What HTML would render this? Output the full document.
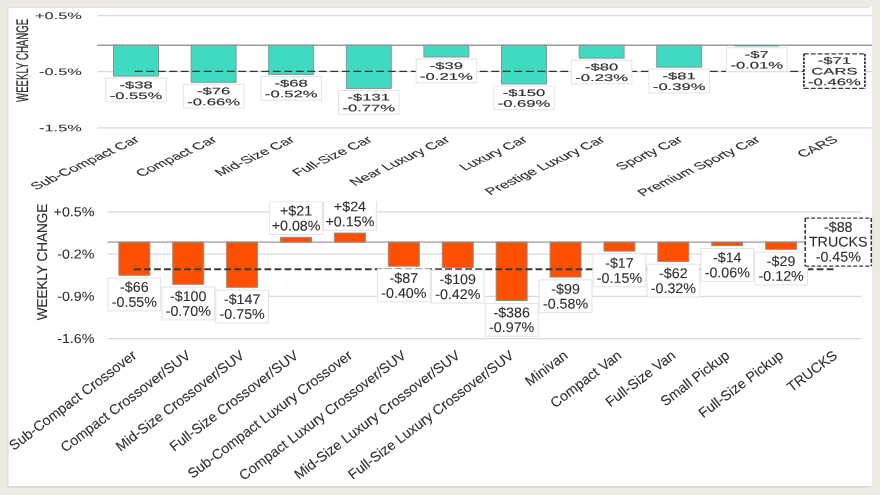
<!DOCTYPE html><html><head><meta charset="utf-8"><style>html,body{margin:0;padding:0;background:#EDE9E5;width:880px;height:495px;overflow:hidden}svg{display:block;will-change:transform}text{font-family:"Liberation Sans", sans-serif;text-rendering:geometricPrecision}.tp text{stroke:#2e2e2e;stroke-width:0.15px;stroke-linejoin:round}.bt text{stroke:#2e2e2e;stroke-width:0.1px;stroke-linejoin:round}</style></head><body>
<svg width="880" height="495" viewBox="0 0 880 495">
<rect x="0" y="0" width="880" height="495" fill="#EDE9E5"/>
<rect x="7.5" y="6.7" width="861.5" height="1.1" fill="#d9d9d9"/>
<rect x="7.5" y="6.7" width="1.1" height="481" fill="#d9d9d9"/>
<rect x="7.5" y="486" width="861.5" height="1.7" fill="#d8d8d8"/>
<rect x="8.6" y="7.8" width="863.4" height="478.2" fill="#ffffff"/>
<rect x="869" y="6.7" width="3" height="479.3" fill="#ffffff"/>
<g class="tp">
<line x1="97.2" y1="15.6" x2="872.0" y2="15.6" stroke="#d9d9d9" stroke-width="1.3"/>
<text transform="translate(81.80,19.00) scale(1.72,1) rotate(0.03)" text-anchor="end" font-size="9.5" fill="#2e2e2e" style="stroke-width:0.06px">+0.5%</text>
<line x1="97.2" y1="71.7" x2="872.0" y2="71.7" stroke="#d9d9d9" stroke-width="1.3"/>
<text transform="translate(81.80,75.10) scale(1.72,1) rotate(0.03)" text-anchor="end" font-size="9.5" fill="#2e2e2e" style="stroke-width:0.06px">-0.5%</text>
<line x1="97.2" y1="127.9" x2="872.0" y2="127.9" stroke="#d9d9d9" stroke-width="1.3"/>
<text transform="translate(81.80,131.30) scale(1.72,1) rotate(0.03)" text-anchor="end" font-size="9.5" fill="#2e2e2e" style="stroke-width:0.06px">-1.5%</text>
<line x1="97.2" y1="45.2" x2="872.0" y2="45.2" stroke="#9c9c9c" stroke-width="1.4"/>
<text transform="translate(27.75,60.4) scale(1.75,1) rotate(-90)" text-anchor="middle" font-size="9.65" fill="#2e2e2e" style="stroke:#2e2e2e;stroke-width:0.12px">WEEKLY CHANGE</text>
<rect x="113.50" y="45.20" width="45.0" height="30.91" fill="#40D9C2" stroke="#8c8c8c" stroke-width="0.9"/>
<rect x="191.10" y="45.20" width="45.0" height="37.09" fill="#40D9C2" stroke="#8c8c8c" stroke-width="0.9"/>
<rect x="268.70" y="45.20" width="45.0" height="29.22" fill="#40D9C2" stroke="#8c8c8c" stroke-width="0.9"/>
<rect x="346.30" y="45.20" width="45.0" height="43.27" fill="#40D9C2" stroke="#8c8c8c" stroke-width="0.9"/>
<rect x="423.90" y="45.20" width="45.0" height="11.80" fill="#40D9C2" stroke="#8c8c8c" stroke-width="0.9"/>
<rect x="501.50" y="45.20" width="45.0" height="38.78" fill="#40D9C2" stroke="#8c8c8c" stroke-width="0.9"/>
<rect x="579.10" y="45.20" width="45.0" height="12.93" fill="#40D9C2" stroke="#8c8c8c" stroke-width="0.9"/>
<rect x="656.70" y="45.20" width="45.0" height="21.92" fill="#40D9C2" stroke="#8c8c8c" stroke-width="0.9"/>
<rect x="734.30" y="45.00" width="45.0" height="1.4" fill="#5a9e93"/>
<line x1="134.80" y1="71.4" x2="805.00" y2="71.4" stroke="#333" stroke-width="1.4" stroke-dasharray="7.9 3.6"/>
<rect x="105.75" y="78.11" width="60.5" height="23.8" fill="#fff" stroke="#e3e3e3" stroke-width="1"/>
<text transform="translate(136.00,88.16) scale(1.75,1) rotate(0.03)" text-anchor="middle" font-size="9.5" fill="#2e2e2e">-$38</text>
<text transform="translate(136.00,98.96) scale(1.75,1) rotate(0.03)" text-anchor="middle" font-size="9.5" fill="#2e2e2e">-0.55%</text>
<rect x="183.35" y="84.29" width="60.5" height="23.8" fill="#fff" stroke="#e3e3e3" stroke-width="1"/>
<text transform="translate(213.60,94.34) scale(1.75,1) rotate(0.03)" text-anchor="middle" font-size="9.5" fill="#2e2e2e">-$76</text>
<text transform="translate(213.60,105.14) scale(1.75,1) rotate(0.03)" text-anchor="middle" font-size="9.5" fill="#2e2e2e">-0.66%</text>
<rect x="260.95" y="76.42" width="60.5" height="23.8" fill="#fff" stroke="#e3e3e3" stroke-width="1"/>
<text transform="translate(291.20,86.47) scale(1.75,1) rotate(0.03)" text-anchor="middle" font-size="9.5" fill="#2e2e2e">-$68</text>
<text transform="translate(291.20,97.27) scale(1.75,1) rotate(0.03)" text-anchor="middle" font-size="9.5" fill="#2e2e2e">-0.52%</text>
<rect x="338.55" y="90.47" width="60.5" height="23.8" fill="#fff" stroke="#e3e3e3" stroke-width="1"/>
<text transform="translate(368.80,100.52) scale(1.75,1) rotate(0.03)" text-anchor="middle" font-size="9.5" fill="#2e2e2e">-$131</text>
<text transform="translate(368.80,111.32) scale(1.75,1) rotate(0.03)" text-anchor="middle" font-size="9.5" fill="#2e2e2e">-0.77%</text>
<rect x="416.15" y="59.00" width="60.5" height="23.8" fill="#fff" stroke="#e3e3e3" stroke-width="1"/>
<text transform="translate(446.40,69.05) scale(1.75,1) rotate(0.03)" text-anchor="middle" font-size="9.5" fill="#2e2e2e">-$39</text>
<text transform="translate(446.40,79.85) scale(1.75,1) rotate(0.03)" text-anchor="middle" font-size="9.5" fill="#2e2e2e">-0.21%</text>
<rect x="493.75" y="85.98" width="60.5" height="23.8" fill="#fff" stroke="#e3e3e3" stroke-width="1"/>
<text transform="translate(524.00,96.03) scale(1.75,1) rotate(0.03)" text-anchor="middle" font-size="9.5" fill="#2e2e2e">-$150</text>
<text transform="translate(524.00,106.83) scale(1.75,1) rotate(0.03)" text-anchor="middle" font-size="9.5" fill="#2e2e2e">-0.69%</text>
<rect x="571.35" y="60.13" width="60.5" height="23.8" fill="#fff" stroke="#e3e3e3" stroke-width="1"/>
<text transform="translate(601.60,70.18) scale(1.75,1) rotate(0.03)" text-anchor="middle" font-size="9.5" fill="#2e2e2e">-$80</text>
<text transform="translate(601.60,80.98) scale(1.75,1) rotate(0.03)" text-anchor="middle" font-size="9.5" fill="#2e2e2e">-0.23%</text>
<rect x="648.95" y="69.12" width="60.5" height="23.8" fill="#fff" stroke="#e3e3e3" stroke-width="1"/>
<text transform="translate(679.20,79.17) scale(1.75,1) rotate(0.03)" text-anchor="middle" font-size="9.5" fill="#2e2e2e">-$81</text>
<text transform="translate(679.20,89.97) scale(1.75,1) rotate(0.03)" text-anchor="middle" font-size="9.5" fill="#2e2e2e">-0.39%</text>
<rect x="726.55" y="47.76" width="60.5" height="23.8" fill="#fff" stroke="#e3e3e3" stroke-width="1"/>
<text transform="translate(756.80,57.81) scale(1.75,1) rotate(0.03)" text-anchor="middle" font-size="9.5" fill="#2e2e2e">-$7</text>
<text transform="translate(756.80,68.61) scale(1.75,1) rotate(0.03)" text-anchor="middle" font-size="9.5" fill="#2e2e2e">-0.01%</text>
<rect x="803.9" y="53.9" width="61.0" height="34.5" fill="#fff"/>
<line x1="803.9" y1="53.9" x2="864.9" y2="53.9" stroke="#3a3a3a" stroke-width="1.2" stroke-dasharray="4.8 2.1"/>
<line x1="803.9" y1="88.4" x2="864.9" y2="88.4" stroke="#3a3a3a" stroke-width="1.2" stroke-dasharray="4.8 2.1"/>
<line x1="803.9" y1="53.9" x2="803.9" y2="88.4" stroke="#333" stroke-width="1.8" stroke-dasharray="2.5 1.3"/>
<line x1="864.9" y1="53.9" x2="864.9" y2="88.4" stroke="#333" stroke-width="1.8" stroke-dasharray="2.5 1.3"/>
<text transform="translate(834.40,63.70) scale(1.75,1) rotate(0.03)" text-anchor="middle" font-size="9.5" fill="#2e2e2e">-$71</text>
<text transform="translate(834.40,74.50) scale(1.75,1) rotate(0.03)" text-anchor="middle" font-size="9.5" fill="#2e2e2e">CARS</text>
<text transform="translate(834.40,85.30) scale(1.75,1) rotate(0.03)" text-anchor="middle" font-size="9.5" fill="#2e2e2e">-0.46%</text>
<text transform="translate(140.60,141.0) scale(1.66,1) rotate(-38)" text-anchor="end" font-size="10" fill="#2e2e2e" style="stroke-width:0.1px;stroke:#2e2e2e">Sub-Compact Car</text>
<text transform="translate(218.20,141.0) scale(1.66,1) rotate(-38)" text-anchor="end" font-size="10" fill="#2e2e2e" style="stroke-width:0.1px;stroke:#2e2e2e">Compact Car</text>
<text transform="translate(295.80,141.0) scale(1.66,1) rotate(-38)" text-anchor="end" font-size="10" fill="#2e2e2e" style="stroke-width:0.1px;stroke:#2e2e2e">Mid-Size Car</text>
<text transform="translate(373.40,141.0) scale(1.66,1) rotate(-38)" text-anchor="end" font-size="10" fill="#2e2e2e" style="stroke-width:0.1px;stroke:#2e2e2e">Full-Size Car</text>
<text transform="translate(451.00,141.0) scale(1.66,1) rotate(-38)" text-anchor="end" font-size="10" fill="#2e2e2e" style="stroke-width:0.1px;stroke:#2e2e2e">Near Luxury Car</text>
<text transform="translate(528.60,141.0) scale(1.66,1) rotate(-38)" text-anchor="end" font-size="10" fill="#2e2e2e" style="stroke-width:0.1px;stroke:#2e2e2e">Luxury Car</text>
<text transform="translate(606.20,141.0) scale(1.66,1) rotate(-38)" text-anchor="end" font-size="10" fill="#2e2e2e" style="stroke-width:0.1px;stroke:#2e2e2e">Prestige Luxury Car</text>
<text transform="translate(683.80,141.0) scale(1.66,1) rotate(-38)" text-anchor="end" font-size="10" fill="#2e2e2e" style="stroke-width:0.1px;stroke:#2e2e2e">Sporty Car</text>
<text transform="translate(761.40,141.0) scale(1.66,1) rotate(-38)" text-anchor="end" font-size="10" fill="#2e2e2e" style="stroke-width:0.1px;stroke:#2e2e2e">Premium Sporty Car</text>
<text transform="translate(839.00,141.0) scale(1.66,1) rotate(-38)" text-anchor="end" font-size="10" fill="#2e2e2e" style="stroke-width:0.1px;stroke:#2e2e2e">CARS</text>
</g>
<defs><clipPath id="cb"><rect x="0" y="201.2" width="880" height="300"/></clipPath></defs>
<g clip-path="url(#cb)" class="bt">
<line x1="107.4" y1="211.9" x2="861.0" y2="211.9" stroke="#d9d9d9" stroke-width="1.3"/>
<text transform="translate(94.50,216.20) scale(1.1,1) rotate(0.03)" text-anchor="end" font-size="13" fill="#2e2e2e" style="stroke-width:0.06px">+0.5%</text>
<line x1="107.4" y1="254.2" x2="861.0" y2="254.2" stroke="#d9d9d9" stroke-width="1.3"/>
<text transform="translate(94.50,258.50) scale(1.1,1) rotate(0.03)" text-anchor="end" font-size="13" fill="#2e2e2e" style="stroke-width:0.06px">-0.2%</text>
<line x1="107.4" y1="296.4" x2="861.0" y2="296.4" stroke="#d9d9d9" stroke-width="1.3"/>
<text transform="translate(94.50,300.70) scale(1.1,1) rotate(0.03)" text-anchor="end" font-size="13" fill="#2e2e2e" style="stroke-width:0.06px">-0.9%</text>
<line x1="107.4" y1="338.6" x2="861.0" y2="338.6" stroke="#d9d9d9" stroke-width="1.3"/>
<text transform="translate(94.50,342.90) scale(1.1,1) rotate(0.03)" text-anchor="end" font-size="13" fill="#2e2e2e" style="stroke-width:0.06px">-1.6%</text>
<line x1="107.4" y1="242.1" x2="861.0" y2="242.1" stroke="#9c9c9c" stroke-width="1.4"/>
<text transform="translate(46.5,262.0) scale(1.06,1) rotate(-90)" text-anchor="middle" font-size="13.5" fill="#2e2e2e" style="stroke:#2e2e2e;stroke-width:0.12px">WEEKLY CHANGE</text>
<rect x="118.85" y="242.10" width="31.0" height="33.16" fill="#FF5000" stroke="#8c8c8c" stroke-width="0.9"/>
<rect x="172.75" y="242.10" width="31.0" height="42.21" fill="#FF5000" stroke="#8c8c8c" stroke-width="0.9"/>
<rect x="226.65" y="242.10" width="31.0" height="45.22" fill="#FF5000" stroke="#8c8c8c" stroke-width="0.9"/>
<rect x="280.55" y="237.28" width="31.0" height="4.82" fill="#FF5000" stroke="#8c8c8c" stroke-width="0.9"/>
<rect x="334.45" y="233.06" width="31.0" height="9.04" fill="#FF5000" stroke="#8c8c8c" stroke-width="0.9"/>
<rect x="388.35" y="242.10" width="31.0" height="24.12" fill="#FF5000" stroke="#8c8c8c" stroke-width="0.9"/>
<rect x="442.25" y="242.10" width="31.0" height="25.33" fill="#FF5000" stroke="#8c8c8c" stroke-width="0.9"/>
<rect x="496.15" y="242.10" width="31.0" height="58.49" fill="#FF5000" stroke="#8c8c8c" stroke-width="0.9"/>
<rect x="550.05" y="242.10" width="31.0" height="34.97" fill="#FF5000" stroke="#8c8c8c" stroke-width="0.9"/>
<rect x="603.95" y="242.10" width="31.0" height="9.04" fill="#FF5000" stroke="#8c8c8c" stroke-width="0.9"/>
<rect x="657.85" y="242.10" width="31.0" height="19.30" fill="#FF5000" stroke="#8c8c8c" stroke-width="0.9"/>
<rect x="711.75" y="242.10" width="31.0" height="3.62" fill="#FF5000" stroke="#8c8c8c" stroke-width="0.9"/>
<rect x="765.65" y="242.10" width="31.0" height="7.24" fill="#FF5000" stroke="#8c8c8c" stroke-width="0.9"/>
<line x1="133.95" y1="269.2" x2="833.70" y2="269.2" stroke="#3a3a3a" stroke-width="2.0" stroke-dasharray="6.8 3.24"/>
<rect x="107.95" y="278.06" width="52.8" height="32.8" fill="#fff" stroke="#e3e3e3" stroke-width="1"/>
<text transform="translate(134.35,291.87) scale(1.02,1) rotate(0.03)" text-anchor="middle" font-size="14" fill="#2e2e2e">-$66</text>
<text transform="translate(134.35,306.76) scale(1.02,1) rotate(0.03)" text-anchor="middle" font-size="14" fill="#2e2e2e">-0.55%</text>
<rect x="161.85" y="287.11" width="52.8" height="32.8" fill="#fff" stroke="#e3e3e3" stroke-width="1"/>
<text transform="translate(188.25,300.91) scale(1.02,1) rotate(0.03)" text-anchor="middle" font-size="14" fill="#2e2e2e">-$100</text>
<text transform="translate(188.25,315.81) scale(1.02,1) rotate(0.03)" text-anchor="middle" font-size="14" fill="#2e2e2e">-0.70%</text>
<rect x="215.75" y="290.12" width="52.8" height="32.8" fill="#fff" stroke="#e3e3e3" stroke-width="1"/>
<text transform="translate(242.15,303.93) scale(1.02,1) rotate(0.03)" text-anchor="middle" font-size="14" fill="#2e2e2e">-$147</text>
<text transform="translate(242.15,318.82) scale(1.02,1) rotate(0.03)" text-anchor="middle" font-size="14" fill="#2e2e2e">-0.75%</text>
<rect x="269.65" y="201.68" width="52.8" height="32.8" fill="#fff" stroke="#e3e3e3" stroke-width="1"/>
<text transform="translate(296.05,215.48) scale(1.02,1) rotate(0.03)" text-anchor="middle" font-size="14" fill="#2e2e2e">+$21</text>
<text transform="translate(296.05,230.38) scale(1.02,1) rotate(0.03)" text-anchor="middle" font-size="14" fill="#2e2e2e">+0.08%</text>
<rect x="323.55" y="197.45" width="52.8" height="32.8" fill="#fff" stroke="#e3e3e3" stroke-width="1"/>
<text transform="translate(349.95,211.25) scale(1.02,1) rotate(0.03)" text-anchor="middle" font-size="14" fill="#2e2e2e">+$24</text>
<text transform="translate(349.95,226.16) scale(1.02,1) rotate(0.03)" text-anchor="middle" font-size="14" fill="#2e2e2e">+0.15%</text>
<rect x="377.45" y="269.02" width="52.8" height="32.8" fill="#fff" stroke="#e3e3e3" stroke-width="1"/>
<text transform="translate(403.85,282.82) scale(1.02,1) rotate(0.03)" text-anchor="middle" font-size="14" fill="#2e2e2e">-$87</text>
<text transform="translate(403.85,297.72) scale(1.02,1) rotate(0.03)" text-anchor="middle" font-size="14" fill="#2e2e2e">-0.40%</text>
<rect x="431.35" y="270.23" width="52.8" height="32.8" fill="#fff" stroke="#e3e3e3" stroke-width="1"/>
<text transform="translate(457.75,284.03) scale(1.02,1) rotate(0.03)" text-anchor="middle" font-size="14" fill="#2e2e2e">-$109</text>
<text transform="translate(457.75,298.93) scale(1.02,1) rotate(0.03)" text-anchor="middle" font-size="14" fill="#2e2e2e">-0.42%</text>
<rect x="485.25" y="303.39" width="52.8" height="32.8" fill="#fff" stroke="#e3e3e3" stroke-width="1"/>
<text transform="translate(511.65,317.19) scale(1.02,1) rotate(0.03)" text-anchor="middle" font-size="14" fill="#2e2e2e">-$386</text>
<text transform="translate(511.65,332.09) scale(1.02,1) rotate(0.03)" text-anchor="middle" font-size="14" fill="#2e2e2e">-0.97%</text>
<rect x="539.15" y="279.87" width="52.8" height="32.8" fill="#fff" stroke="#e3e3e3" stroke-width="1"/>
<text transform="translate(565.55,293.67) scale(1.02,1) rotate(0.03)" text-anchor="middle" font-size="14" fill="#2e2e2e">-$99</text>
<text transform="translate(565.55,308.57) scale(1.02,1) rotate(0.03)" text-anchor="middle" font-size="14" fill="#2e2e2e">-0.58%</text>
<rect x="593.05" y="253.94" width="52.8" height="32.8" fill="#fff" stroke="#e3e3e3" stroke-width="1"/>
<text transform="translate(619.45,267.75) scale(1.02,1) rotate(0.03)" text-anchor="middle" font-size="14" fill="#2e2e2e">-$17</text>
<text transform="translate(619.45,282.64) scale(1.02,1) rotate(0.03)" text-anchor="middle" font-size="14" fill="#2e2e2e">-0.15%</text>
<rect x="646.95" y="264.20" width="52.8" height="32.8" fill="#fff" stroke="#e3e3e3" stroke-width="1"/>
<text transform="translate(673.35,278.00) scale(1.02,1) rotate(0.03)" text-anchor="middle" font-size="14" fill="#2e2e2e">-$62</text>
<text transform="translate(673.35,292.90) scale(1.02,1) rotate(0.03)" text-anchor="middle" font-size="14" fill="#2e2e2e">-0.32%</text>
<rect x="700.85" y="248.52" width="52.8" height="32.8" fill="#fff" stroke="#e3e3e3" stroke-width="1"/>
<text transform="translate(727.25,262.32) scale(1.02,1) rotate(0.03)" text-anchor="middle" font-size="14" fill="#2e2e2e">-$14</text>
<text transform="translate(727.25,277.22) scale(1.02,1) rotate(0.03)" text-anchor="middle" font-size="14" fill="#2e2e2e">-0.06%</text>
<rect x="754.75" y="252.14" width="52.8" height="32.8" fill="#fff" stroke="#e3e3e3" stroke-width="1"/>
<text transform="translate(781.15,265.94) scale(1.02,1) rotate(0.03)" text-anchor="middle" font-size="14" fill="#2e2e2e">-$29</text>
<text transform="translate(781.15,280.84) scale(1.02,1) rotate(0.03)" text-anchor="middle" font-size="14" fill="#2e2e2e">-0.12%</text>
<rect x="805.2" y="218.1" width="66.1" height="48.1" fill="#fff"/>
<line x1="805.2" y1="218.1" x2="871.3000000000001" y2="218.1" stroke="#3a3a3a" stroke-width="1.3" stroke-dasharray="4 2"/>
<line x1="805.2" y1="266.2" x2="871.3000000000001" y2="266.2" stroke="#3a3a3a" stroke-width="1.3" stroke-dasharray="4 2"/>
<line x1="805.2" y1="218.1" x2="805.2" y2="266.2" stroke="#333" stroke-width="1.5" stroke-dasharray="4 1.8"/>
<line x1="871.3000000000001" y1="218.1" x2="871.3000000000001" y2="266.2" stroke="#333" stroke-width="1.5" stroke-dasharray="4 1.8"/>
<text transform="translate(838.25,231.70) scale(1.02,1) rotate(0.03)" text-anchor="middle" font-size="14" fill="#2e2e2e">-$88</text>
<text transform="translate(838.25,246.60) scale(1.02,1) rotate(0.03)" text-anchor="middle" font-size="14" fill="#2e2e2e">TRUCKS</text>
<text transform="translate(838.25,261.50) scale(1.02,1) rotate(0.03)" text-anchor="middle" font-size="14" fill="#2e2e2e">-0.45%</text>
<text transform="translate(137.55,357.2) scale(1.02,1) rotate(-37.7)" text-anchor="end" font-size="14" fill="#2e2e2e" style="stroke-width:0.1px;stroke:#2e2e2e">Sub-Compact Crossover</text>
<text transform="translate(191.45,357.2) scale(1.02,1) rotate(-37.7)" text-anchor="end" font-size="14" fill="#2e2e2e" style="stroke-width:0.1px;stroke:#2e2e2e">Compact Crossover/SUV</text>
<text transform="translate(245.35,357.2) scale(1.02,1) rotate(-37.7)" text-anchor="end" font-size="14" fill="#2e2e2e" style="stroke-width:0.1px;stroke:#2e2e2e">Mid-Size Crossover/SUV</text>
<text transform="translate(299.25,357.2) scale(1.02,1) rotate(-37.7)" text-anchor="end" font-size="14" fill="#2e2e2e" style="stroke-width:0.1px;stroke:#2e2e2e">Full-Size Crossover/SUV</text>
<text transform="translate(353.15,357.2) scale(1.02,1) rotate(-37.7)" text-anchor="end" font-size="14" fill="#2e2e2e" style="stroke-width:0.1px;stroke:#2e2e2e">Sub-Compact Luxury Crossover</text>
<text transform="translate(407.05,357.2) scale(1.02,1) rotate(-37.7)" text-anchor="end" font-size="14" fill="#2e2e2e" style="stroke-width:0.1px;stroke:#2e2e2e">Compact Luxury Crossover/SUV</text>
<text transform="translate(460.95,357.2) scale(1.02,1) rotate(-37.7)" text-anchor="end" font-size="14" fill="#2e2e2e" style="stroke-width:0.1px;stroke:#2e2e2e">Mid-Size Luxury Crossover/SUV</text>
<text transform="translate(514.85,357.2) scale(1.02,1) rotate(-37.7)" text-anchor="end" font-size="14" fill="#2e2e2e" style="stroke-width:0.1px;stroke:#2e2e2e">Full-Size Luxury Crossover/SUV</text>
<text transform="translate(568.75,357.2) scale(1.02,1) rotate(-37.7)" text-anchor="end" font-size="14" fill="#2e2e2e" style="stroke-width:0.1px;stroke:#2e2e2e">Minivan</text>
<text transform="translate(622.65,357.2) scale(1.02,1) rotate(-37.7)" text-anchor="end" font-size="14" fill="#2e2e2e" style="stroke-width:0.1px;stroke:#2e2e2e">Compact Van</text>
<text transform="translate(676.55,357.2) scale(1.02,1) rotate(-37.7)" text-anchor="end" font-size="14" fill="#2e2e2e" style="stroke-width:0.1px;stroke:#2e2e2e">Full-Size Van</text>
<text transform="translate(730.45,357.2) scale(1.02,1) rotate(-37.7)" text-anchor="end" font-size="14" fill="#2e2e2e" style="stroke-width:0.1px;stroke:#2e2e2e">Small Pickup</text>
<text transform="translate(784.35,357.2) scale(1.02,1) rotate(-37.7)" text-anchor="end" font-size="14" fill="#2e2e2e" style="stroke-width:0.1px;stroke:#2e2e2e">Full-Size Pickup</text>
<text transform="translate(838.25,357.2) scale(1.02,1) rotate(-37.7)" text-anchor="end" font-size="14" fill="#2e2e2e" style="stroke-width:0.1px;stroke:#2e2e2e">TRUCKS</text>
</g>
</svg></body></html>
